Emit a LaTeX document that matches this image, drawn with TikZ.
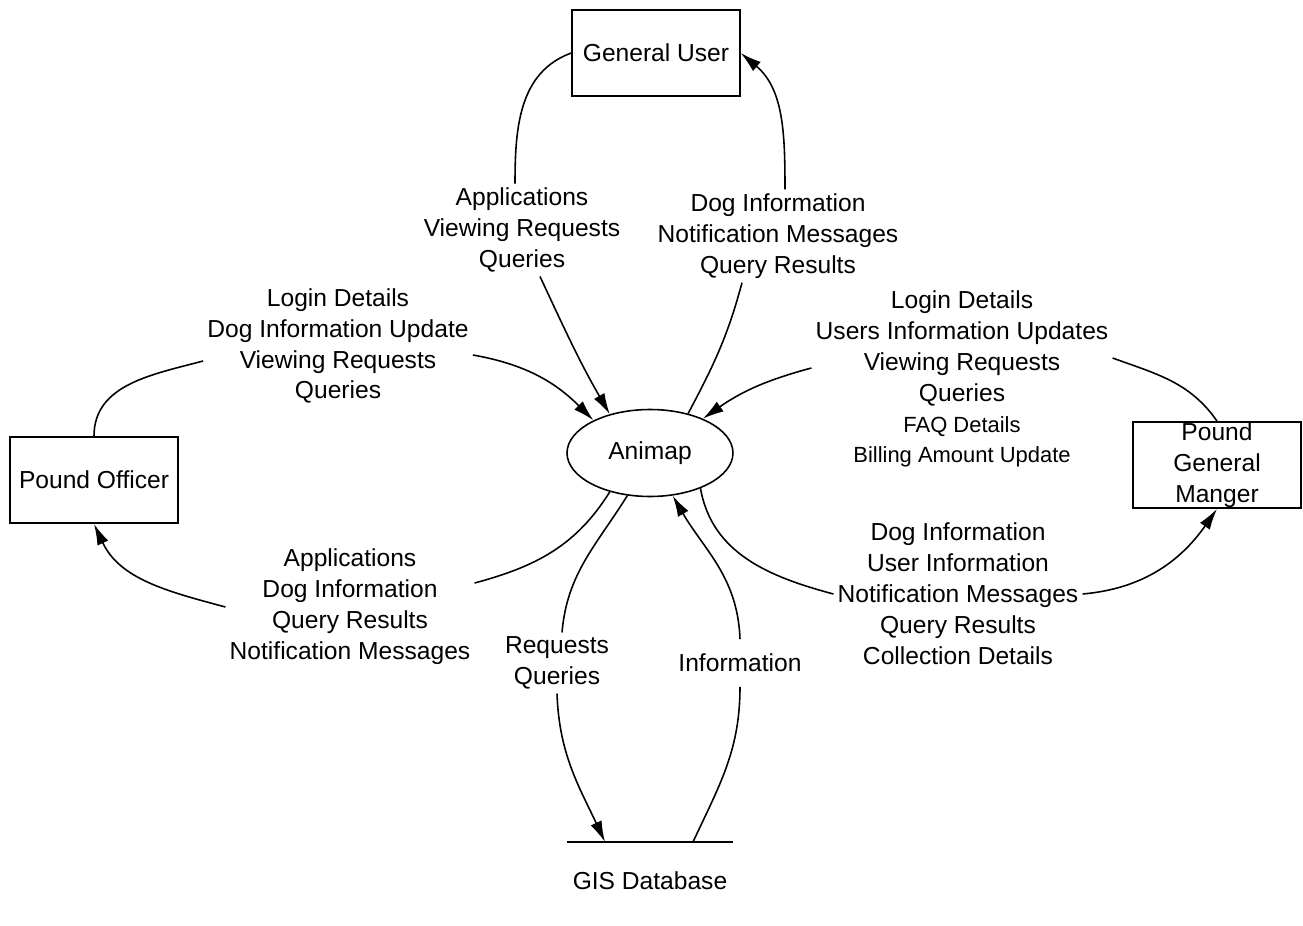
\documentclass[tikz,border=0pt]{standalone}
\usepackage{fontspec}
\setmainfont{Liberation Sans}
\usepackage{tikz}
\usetikzlibrary{arrows.meta,positioning,shapes.geometric}
\newcommand{\minorline}[1]{{\fontsize{12.5}{17.6}\selectfont #1}}

\begin{document}
\begin{tikzpicture}[x=0.02cm,y=0.02cm,line width=0.9pt,>={Latex[length=4.2mm,width=2.4mm]}]
\tikzstyle{every node}+=[font=\fontsize{14}{17.6}\selectfont]
\tikzstyle{entity}=[draw,line width=1.1pt,minimum width=3.35cm,minimum height=1.72cm,inner sep=0pt]
\tikzstyle{flow}=[align=center,inner sep=2pt]
\useasboundingbox (0,0) rectangle (1303,-926);
\node [entity] (gu) at (656,-53) {General User};
\node [entity] (po) at (94,-480) {Pound Officer};
\node [entity,label={[align=center]center:Pound\\General\\Manger}] (pgm) at (1217,-465) {};
\node [draw,ellipse,minimum width=3.32cm,minimum height=1.74cm,inner sep=0pt] (ani) at (650,-453) {Animap};
\node [minimum width=3.3cm,minimum height=0pt,inner sep=0pt] (db) at (650,-842) {};
\node [below=0.45cm of db] (dbname) {GIS Database};
\draw (db.west) -- (db.east);
\node [flow] (guin) at (522,-230) {Applications\\Viewing Requests\\Queries};
\node [flow] (guout) at (778,-236) {Dog Information\\Notification Messages\\Query Results};
\node [flow] (poin) at (338,-346) {Login Details\\Dog Information Update\\Viewing Requests\\Queries};
\node [flow] (poout) at (350,-607) {Applications\\Dog Information\\Query Results\\Notification Messages};
\node [flow] (pgmin) at (962,-379) {Login Details\\Users Information Updates\\Viewing Requests\\Queries\\\minorline{FAQ Details}\\\minorline{Billing Amount Update}};
\node [flow] (pgmout) at (958,-594) {Dog Information\\User Information\\Notification Messages\\Query Results\\Collection Details};
\node [flow] (gisout) at (557,-663) {Requests\\Queries};
\node [flow,inner ysep=8pt] (gisin) at (740,-663) {Information};
\draw (gu.west) to[out=200,in=90] ([xshift=-0.14cm]guin.north);
\draw [->] ([xshift=0.36cm]guin.south) to[out=-65,in=120] (ani.136);
\draw (ani.46) to[out=62,in=-105] ([xshift=-0.72cm]guout.south);
\draw [->] ([xshift=0.14cm]guout.north) to[out=90,in=-40] (gu.east);
\draw (po.north) to[out=90,in=195] ([yshift=-0.3cm]poin.west);
\draw [->] ([yshift=-0.18cm]poin.east) to[out=-10,in=135] (ani.150);
\draw (ani.224) to[out=238,in=15] ([yshift=0.48cm]poout.east);
\draw [->] (poout.west) to[out=165,in=-65] (po.south);
\draw (pgm.north) to[out=125,in=-20] ([yshift=0.42cm]pgmin.east);
\draw [->] ([yshift=0.22cm]pgmin.west) to[out=195,in=35] (ani.33);
\draw (ani.325) to[out=-80,in=165] (pgmout.west);
\draw [->] (pgmout.east) to[out=5,in=-125] (pgm.south);
\draw (ani.242) to[out=238,in=85] ([xshift=0.1cm]gisout.north);
\draw [->] (gisout.south) to[out=-88,in=115] ([xshift=-0.9cm]db.center);
\draw ([xshift=0.86cm]db.center) to[out=65,in=-90] (gisin.south);
\draw [->] (gisin.north) to[out=92,in=-60] (ani.298);
\end{tikzpicture}
\end{document}
